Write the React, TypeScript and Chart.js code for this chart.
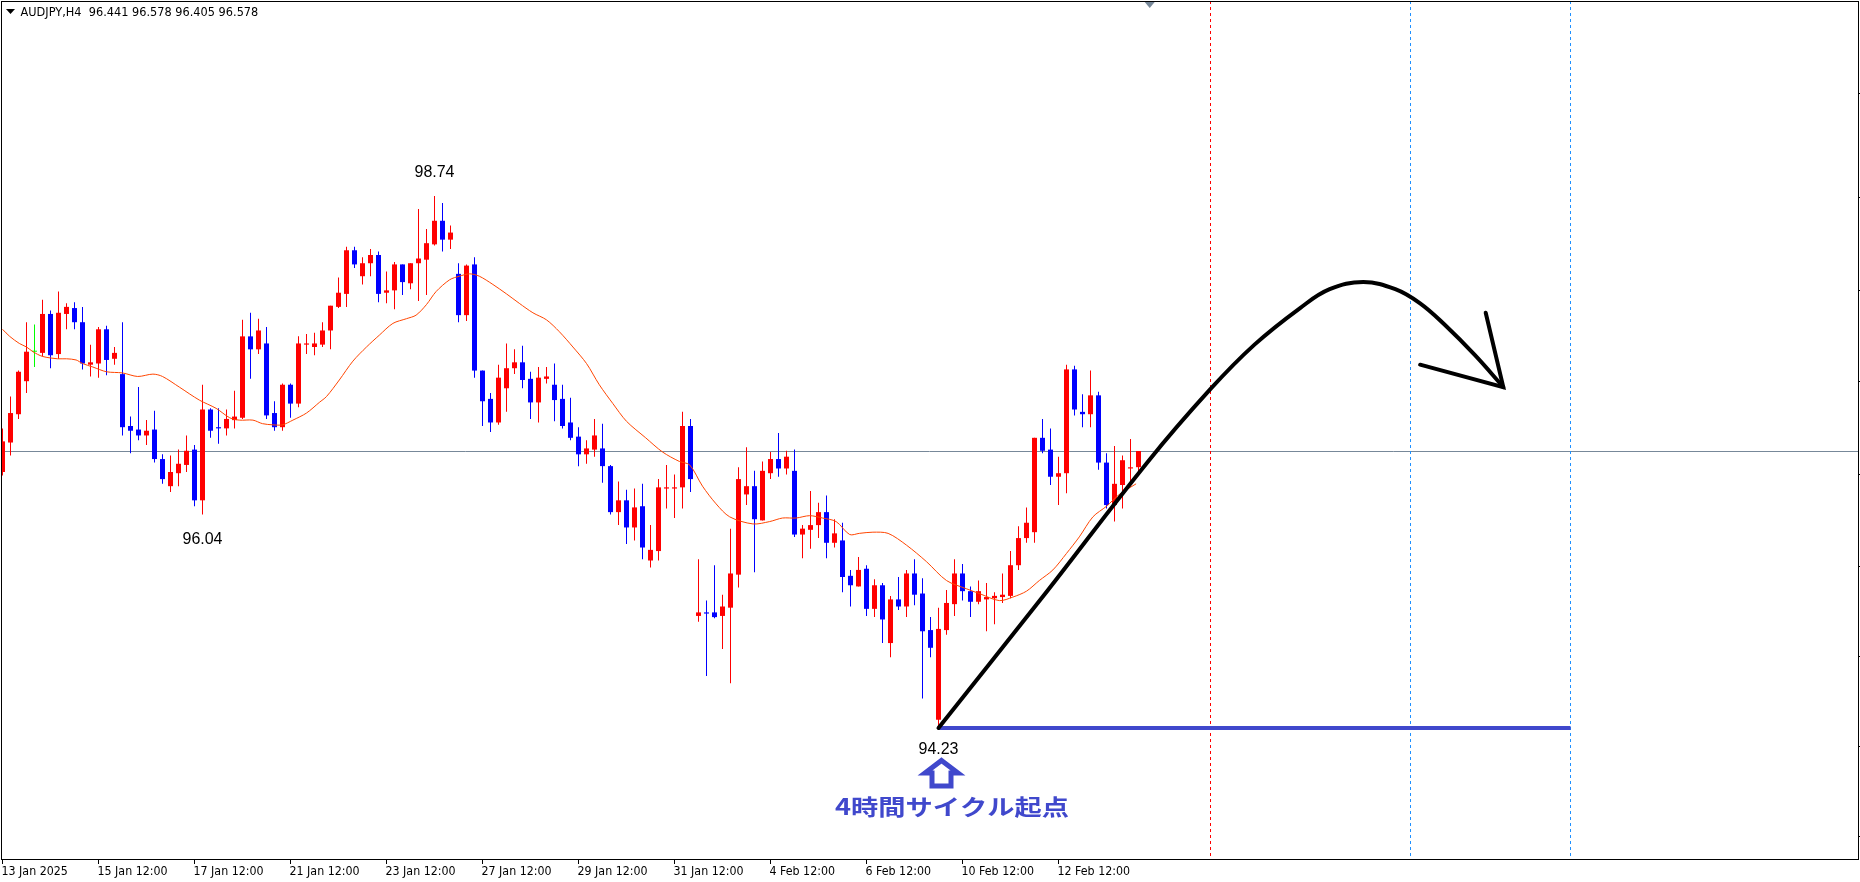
import React, { useEffect, useRef } from 'react';
import { Chart, registerables } from 'chart.js';

Chart.register(...registerables);

// ---------- data ----------
const headerText = 'AUDJPY,H4  96.441 96.578 96.405 96.578';

const tickIdx = [0, 12, 24, 36, 48, 60, 72, 84, 96, 108, 120, 132];
const tickLabels = [
  '13 Jan 2025', '15 Jan 12:00', '17 Jan 12:00', '21 Jan 12:00', '23 Jan 12:00', '27 Jan 12:00',
  '29 Jan 12:00', '31 Jan 12:00', '4 Feb 12:00', '6 Feb 12:00', '10 Feb 12:00', '12 Feb 12:00',
];

const opens = [
  96.40, 96.65, 96.89, 97.17, 97.42, 97.41, 97.74, 97.40, 97.74, 97.79,
  97.67, 97.31, 97.32, 97.61, 97.36, 97.23, 96.79, 96.76, 96.71, 96.76,
  96.51, 96.28, 96.39, 96.46, 96.59, 96.16, 96.93, 96.78, 96.77, 96.84,
  96.86, 97.55, 97.44, 97.49, 96.90, 96.78, 97.14, 96.98, 97.48, 97.46,
  97.48, 97.60, 97.80, 97.91, 98.28, 98.06, 98.17, 98.24, 97.92, 97.94,
  98.16, 98.00, 98.17, 98.20, 98.33, 98.53, 98.37, 98.08, 97.73, 98.16,
  97.26, 97.02, 96.82, 97.11, 97.28, 97.33, 97.19, 96.99, 97.19, 97.14,
  97.02, 96.82, 96.70, 96.55, 96.59, 96.60, 96.45, 96.06, 96.16, 95.93,
  96.11, 95.65, 95.73, 96.26, 96.26, 96.27, 96.79, 95.18, 95.21, 95.21,
  95.18, 95.25, 95.53, 96.21, 96.28, 95.99, 96.39, 96.51, 96.43, 96.41,
  95.87, 95.91, 95.95, 96.06, 95.80, 95.82, 95.52, 95.43, 95.58, 95.24,
  95.44, 94.95, 95.32, 95.26, 95.54, 95.37, 95.06, 94.30, 95.06, 95.28,
  95.54, 95.39, 95.30, 95.32, 95.33, 95.34, 95.35, 95.61, 95.84, 95.89,
  96.69, 96.59, 96.36, 96.39, 97.27, 96.91, 96.89, 97.05, 96.48, 96.12,
  96.29, 96.43, 96.441,
];
const highs = [
  96.77, 97.04, 97.26, 97.67, 97.65, 97.86, 97.77, 97.93, 97.83, 97.84,
  97.80, 97.48, 97.63, 97.64, 97.46, 97.67, 96.87, 97.12, 96.84, 96.92,
  96.55, 96.54, 96.59, 96.71, 96.63, 97.14, 96.94, 96.94, 96.93, 97.09,
  97.69, 97.75, 97.70, 97.63, 97.00, 97.15, 97.15, 97.55, 97.57, 97.58,
  97.67, 97.81, 98.05, 98.31, 98.31, 98.22, 98.29, 98.27, 98.10, 98.18,
  98.16, 98.17, 98.63, 98.46, 98.74, 98.68, 98.49, 98.17, 98.16, 98.22,
  97.26, 97.07, 97.31, 97.49, 97.44, 97.47, 97.25, 97.29, 97.29, 97.32,
  97.14, 97.03, 96.78, 96.67, 96.85, 96.81, 96.46, 96.32, 96.25, 96.26,
  96.30, 95.95, 96.34, 96.46, 96.38, 96.91, 96.85, 95.66, 95.31, 95.61,
  95.36, 95.92, 96.44, 96.61, 96.41, 96.49, 96.57, 96.73, 96.58, 96.59,
  95.95, 96.24, 96.14, 96.20, 96.00, 95.97, 95.57, 95.68, 95.61, 95.49,
  95.46, 95.35, 95.51, 95.57, 95.66, 95.50, 95.17, 95.25, 95.40, 95.66,
  95.62, 95.43, 95.48, 95.46, 95.38, 95.54, 95.73, 95.94, 96.10, 96.69,
  96.85, 96.77, 96.53, 97.31, 97.30, 97.06, 97.26, 97.08, 96.56, 96.62,
  96.54, 96.68, 96.578,
];
const lows = [
  96.37, 96.54, 96.85, 97.07, 97.29, 97.38, 97.28, 97.36, 97.61, 97.61,
  97.27, 97.21, 97.20, 97.22, 97.31, 96.71, 96.56, 96.67, 96.63, 96.48,
  96.30, 96.23, 96.28, 96.40, 96.11, 96.04, 96.69, 96.64, 96.71, 96.77,
  96.85, 97.19, 97.40, 96.85, 96.75, 96.75, 96.86, 96.95, 97.40, 97.39,
  97.46, 97.44, 97.79, 97.80, 98.13, 97.99, 98.06, 97.84, 97.83, 97.78,
  97.90, 97.95, 97.85, 97.90, 98.32, 98.27, 98.29, 97.67, 97.68, 97.20,
  96.79, 96.74, 96.80, 96.91, 97.23, 97.11, 96.85, 96.82, 97.15, 96.83,
  96.77, 96.67, 96.45, 96.47, 96.53, 96.31, 96.04, 95.95, 95.79, 95.82,
  95.66, 95.59, 95.65, 96.09, 96.01, 96.09, 96.23, 95.13, 94.67, 95.16,
  94.90, 94.61, 95.42, 96.12, 95.55, 95.99, 96.34, 96.36, 96.38, 95.85,
  95.67, 95.75, 95.84, 95.67, 95.76, 95.38, 95.26, 95.43, 95.18, 95.17,
  94.95, 94.83, 95.23, 95.17, 95.27, 94.48, 94.83, 94.23, 95.02, 95.18,
  95.31, 95.17, 95.28, 95.05, 95.11, 95.29, 95.33, 95.57, 95.80, 95.80,
  96.56, 96.29, 96.12, 96.22, 96.88, 96.78, 96.78, 96.42, 96.09, 95.98,
  96.09, 96.28, 96.405,
];
const closes = [
  96.66, 96.90, 97.25, 97.42, 97.42, 97.74, 97.39, 97.75, 97.80, 97.67,
  97.32, 97.33, 97.61, 97.35, 97.41, 96.78, 96.75, 96.71, 96.75, 96.51,
  96.34, 96.40, 96.47, 96.58, 96.16, 96.93, 96.75, 96.77, 96.85, 96.87,
  97.55, 97.44, 97.60, 96.88, 96.78, 97.14, 96.98, 97.49, 97.49, 97.49,
  97.60, 97.81, 97.92, 98.28, 98.16, 98.17, 98.24, 97.91, 97.94, 98.16,
  98.01, 98.17, 98.21, 98.34, 98.53, 98.37, 98.43, 97.73, 98.15, 97.26,
  97.00, 96.82, 97.20, 97.28, 97.33, 97.18, 96.99, 97.20, 97.21, 97.01,
  96.79, 96.69, 96.55, 96.60, 96.71, 96.45, 96.06, 96.16, 95.93, 96.10,
  95.76, 95.74, 96.27, 96.27, 96.27, 96.79, 96.34, 95.21, 95.20, 95.17,
  95.26, 95.54, 96.34, 96.28, 96.00, 96.41, 96.51, 96.43, 96.53, 95.87,
  95.92, 95.95, 96.06, 95.80, 95.88, 95.51, 95.44, 95.57, 95.24, 95.44,
  95.15, 95.32, 95.26, 95.54, 95.36, 95.05, 94.91, 95.07, 95.29, 95.54,
  95.39, 95.30, 95.39, 95.34, 95.35, 95.36, 95.61, 95.84, 95.97, 96.69,
  96.58, 96.36, 96.39, 97.27, 96.93, 96.89, 97.05, 96.48, 96.12, 96.30,
  96.50, 96.44, 96.578,
];

const maIdx = [
  0, 0.9, 2.1, 3, 3.8, 5, 6.9, 8, 9.2, 10, 11.3, 13, 15, 16.9, 18.8, 20, 22.1, 24.6, 26.7, 28.4,
  29.6, 31.3, 32.5, 33.8, 35, 36.3, 38, 39.6, 40.5, 42.1, 43.8, 45.5, 47.1, 48.8, 50.5, 51.7, 53,
  54.2, 55.9, 57.1, 58.4, 59.6, 61.3, 63, 64.6, 66.3, 68, 69.6, 71.3, 73, 74.6, 76.3, 78, 80.4,
  82.5, 84.6, 85.9, 87.5, 89.2, 90.9, 93.8, 95.9, 97.5, 99.2, 100.9, 102.5, 104.2, 105.9, 107.1,
  108.8, 110.7, 113, 115.5, 118, 120.5, 122.1, 124.6, 126.3, 128, 129.6, 131.3, 133, 134.6, 136.3,
  138, 139.6, 141.7,
];
const maVal = [
  97.61, 97.55, 97.49, 97.46, 97.42, 97.38, 97.36, 97.36, 97.35, 97.32, 97.29, 97.25, 97.24, 97.21,
  97.23, 97.21, 97.12, 97.01, 96.94, 96.86, 96.84, 96.84, 96.81, 96.80, 96.80, 96.84, 96.90, 96.99,
  97.04, 97.18, 97.34, 97.46, 97.56, 97.66, 97.70, 97.73, 97.82, 97.93, 98.03, 98.06, 98.08, 98.06,
  97.99, 97.91, 97.83, 97.75, 97.69, 97.59, 97.46, 97.32, 97.14, 96.98, 96.83, 96.69, 96.57, 96.49,
  96.46, 96.28, 96.13, 96.02, 95.96, 95.98, 96.01, 96.01, 96.03, 96.01, 95.98, 95.87, 95.88, 95.89,
  95.88, 95.78, 95.64, 95.48, 95.41, 95.37, 95.31, 95.34, 95.39, 95.48, 95.57, 95.71, 95.85, 96.02,
  96.11, 96.21, 96.30,
];

const bidPrice = 96.578;
const priceTicks = [99.61, 98.73, 97.94, 97.17, 96.38, 95.6, 94.84, 94.07, 93.31];

const cycleStartIdx = 117;
const cycleStartPrice = 94.23;
const cycleEndIdx = 196;
const cycleLineIdx = [151, 176, 196];

const forecastIdx = [117, 130, 143.2, 150.95, 156.5, 162.2, 165.9, 170.1, 174.1, 177.2, 180.25, 184.06, 187.6];
const forecastVal = [94.23, 95.34, 96.49, 97.10, 97.48, 97.79, 97.95, 98.01, 97.95, 97.83, 97.65, 97.39, 97.12];
const arrowHeadIdx = [185.4, 187.6, 177.2];
const arrowHeadVal = [97.75, 97.12, 97.31];

const extremeIdx = [54, 25, 117];
const extremeVal = [98.74, 96.04, 94.23];
const extremeText = ['98.74', '96.04', '94.23'];
const cycleCaption = '4時間サイクル起点';
const shiftMarkerIdx = 143.4;

// ---------- styles ----------
const BULL = '#FF0000';
const BEAR = '#0000FF';
const DOJI = '#00FF00';
const ANNOT_BLUE = '#4048CC';
const labelDy = [-19, 30, 26];
const cycleLineColors = ['#FF0000', '#1E90FF', '#1E90FF'];
const AXIS_FONT = "'DejaVu Sans Condensed', 'DejaVu Sans', sans-serif";

const candleColor = (i: number) =>
  closes[i] > opens[i] ? BULL : closes[i] < opens[i] ? BEAR : DOJI;

const overlayPlugin = {
  id: 'overlay',
  beforeDatasetsDraw(chart: any) {
    const { ctx, chartArea: ca, scales } = chart;
    const xs = scales.x;
    const ys = scales.y;
    ctx.save();
    const by = Math.floor(ys.getPixelForValue(bidPrice)) + 0.5;
    ctx.strokeStyle = '#778899';
    ctx.lineWidth = 1;
    ctx.beginPath();
    ctx.moveTo(ca.left, by);
    ctx.lineTo(ca.right, by);
    ctx.stroke();
    ctx.setLineDash([3, 3]);
    cycleLineIdx.forEach((v, k) => {
      const px = Math.floor(xs.getPixelForValue(v)) + 0.5;
      ctx.strokeStyle = cycleLineColors[k];
      ctx.beginPath();
      ctx.moveTo(px, ca.top);
      ctx.lineTo(px, ca.bottom);
      ctx.stroke();
    });
    ctx.restore();
  },
  afterDraw(chart: any) {
    const { ctx, chartArea: ca, scales } = chart;
    const xs = scales.x;
    const ys = scales.y;
    ctx.save();
    ctx.strokeStyle = '#000';
    ctx.lineWidth = 1;
    ctx.strokeRect(ca.left + 0.5, ca.top + 0.5, ca.right - ca.left, ca.bottom - ca.top);

    ctx.fillStyle = '#000';
    ctx.beginPath();
    ctx.moveTo(6, 9);
    ctx.lineTo(15, 9);
    ctx.lineTo(10.5, 14);
    ctx.closePath();
    ctx.fill();
    ctx.font = `12.5px ${AXIS_FONT}`;
    ctx.textAlign = 'left';
    ctx.textBaseline = 'alphabetic';
    const hw = ctx.measureText(headerText).width;
    ctx.save();
    ctx.translate(20.5, 16);
    ctx.scale(237.8 / hw, 1);
    ctx.fillText(headerText, 0, 0);
    ctx.restore();

    const sx = xs.getPixelForValue(shiftMarkerIdx);
    ctx.fillStyle = '#778899';
    ctx.beginPath();
    ctx.moveTo(sx - 5, ca.top + 1);
    ctx.lineTo(sx + 5, ca.top + 1);
    ctx.lineTo(sx, ca.top + 7);
    ctx.closePath();
    ctx.fill();

    ctx.fillStyle = '#000';
    ctx.font = "16px 'Liberation Sans', Arial, sans-serif";
    ctx.textAlign = 'center';
    ctx.textBaseline = 'alphabetic';
    extremeIdx.forEach((v, k) => {
      const px = xs.getPixelForValue(v);
      const py = ys.getPixelForValue(extremeVal[k]) + labelDy[k];
      ctx.fillText(extremeText[k], px, py);
    });

    const ax = xs.getPixelForValue(cycleStartIdx) + 3;
    const ay = ys.getPixelForValue(cycleStartPrice);
    ctx.strokeStyle = ANNOT_BLUE;
    ctx.lineWidth = 5;
    ctx.lineJoin = 'miter';
    ctx.beginPath();
    ctx.moveTo(ax, ay + 32.5);
    ctx.lineTo(ax + 16.5, ay + 45);
    ctx.lineTo(ax + 9.5, ay + 45);
    ctx.lineTo(ax + 9.5, ay + 58);
    ctx.lineTo(ax - 9.5, ay + 58);
    ctx.lineTo(ax - 9.5, ay + 45);
    ctx.lineTo(ax - 16.5, ay + 45);
    ctx.closePath();
    ctx.stroke();

    ctx.font = "bold 22px 'Noto Sans CJK JP', sans-serif";
    ctx.fillStyle = ANNOT_BLUE;
    ctx.textAlign = 'center';
    ctx.textBaseline = 'middle';
    const w = ctx.measureText(cycleCaption).width;
    const tx = xs.getPixelForValue(cycleStartIdx) + 13.5;
    const ty = ay + 78.2;
    ctx.translate(tx, ty);
    ctx.scale(234 / w, 1);
    ctx.fillText(cycleCaption, 0, 0);
    ctx.restore();
  },
};

export default function App() {
  const ref = useRef<HTMLCanvasElement | null>(null);

  useEffect(() => {
    if (!ref.current) return;
    const idx = opens.map((_, i) => i);
    const colors = idx.map(candleColor);

    const chart = new Chart(ref.current, {
      type: 'bar',
      data: {
        datasets: [
          {
            type: 'line',
            label: 'forecast',
            data: forecastIdx.map((v, k) => ({ x: v, y: forecastVal[k] })),
            borderColor: '#000',
            borderWidth: 4,
            pointRadius: 0,
            fill: false,
            tension: 0.4,
            borderCapStyle: 'round',
            borderJoinStyle: 'round',
            order: 1,
          } as any,
          {
            type: 'line',
            label: 'arrowhead',
            data: arrowHeadIdx.map((v, k) => ({ x: v, y: arrowHeadVal[k] })),
            borderColor: '#000',
            borderWidth: 4,
            pointRadius: 0,
            fill: false,
            tension: 0,
            borderCapStyle: 'round',
            borderJoinStyle: 'miter',
            order: 1,
          } as any,
          {
            type: 'line',
            label: 'cycle base',
            data: [
              { x: cycleStartIdx, y: cycleStartPrice },
              { x: cycleEndIdx, y: cycleStartPrice },
            ],
            borderColor: ANNOT_BLUE,
            borderWidth: 4,
            pointRadius: 0,
            fill: false,
            order: 2,
          } as any,
          {
            type: 'line',
            label: 'MA',
            data: maIdx.map((v, k) => ({ x: v, y: maVal[k] })),
            borderColor: '#FF4500',
            borderWidth: 1,
            pointRadius: 0,
            fill: false,
            tension: 0.3,
            order: 3,
          } as any,
          {
            type: 'bar',
            label: 'body',
            data: idx.map((i) => ({ x: i, y: [opens[i], closes[i]] })),
            backgroundColor: colors,
            borderWidth: 0,
            barThickness: 5,
            grouped: false,
            minBarLength: 1,
            inflateAmount: 0,
            order: 5,
          } as any,
          {
            type: 'bar',
            label: 'wick',
            data: idx.map((i) => ({ x: i, y: [lows[i], highs[i]] })),
            backgroundColor: colors,
            borderWidth: 0,
            barThickness: 1,
            grouped: false,
            inflateAmount: 0,
            order: 6,
          } as any,
        ],
      },
      options: {
        responsive: false,
        devicePixelRatio: 1,
        animation: false,
        events: [],
        layout: { padding: { left: 1, top: 1, right: 0, bottom: 0 } },
        plugins: { legend: { display: false }, tooltip: { enabled: false } },
        scales: {
          x: {
            type: 'linear',
            position: 'bottom',
            min: -0.1875,
            max: 231.9375,
            bounds: 'data',
            offset: false,
            afterFit: (s: any) => {
              s.height = 23;
            },
            afterBuildTicks: (s: any) => {
              s.ticks = tickIdx.map((v) => ({ value: v }));
            },
            ticks: {
              autoSkip: false,
              maxRotation: 0,
              minRotation: 0,
              align: 'start',
              labelOffset: -1,
              padding: 0,
              color: '#000',
              font: { family: AXIS_FONT, size: 12.3 },
              callback: (v: any) => {
                const k = tickIdx.indexOf(Number(v));
                return k >= 0 ? tickLabels[k] : '';
              },
            },
            grid: { drawOnChartArea: false, offset: false, tickLength: 5, color: '#000' },
            border: { display: true, color: '#000', width: 1 },
          },
          y: {
            type: 'linear',
            position: 'right',
            min: 93.1194,
            max: 100.3931,
            bounds: 'data',
            afterFit: (s: any) => {
              s.width = 2;
            },
            afterBuildTicks: (s: any) => {
              s.ticks = priceTicks.map((v) => ({ value: v }));
            },
            ticks: { display: false },
            grid: { drawOnChartArea: false, tickLength: 2, color: '#000' },
            border: { display: true, color: '#000', width: 1 },
          },
        },
      } as any,
      plugins: [overlayPlugin],
    });
    return () => chart.destroy();
  }, []);

  return (
    <div style={{ position: 'absolute', left: 0, top: 0, width: 1860, height: 882, background: '#fff' }}>
      <canvas ref={ref} width={1860} height={882} style={{ display: 'block', width: 1860, height: 882 }} />
    </div>
  );
}
